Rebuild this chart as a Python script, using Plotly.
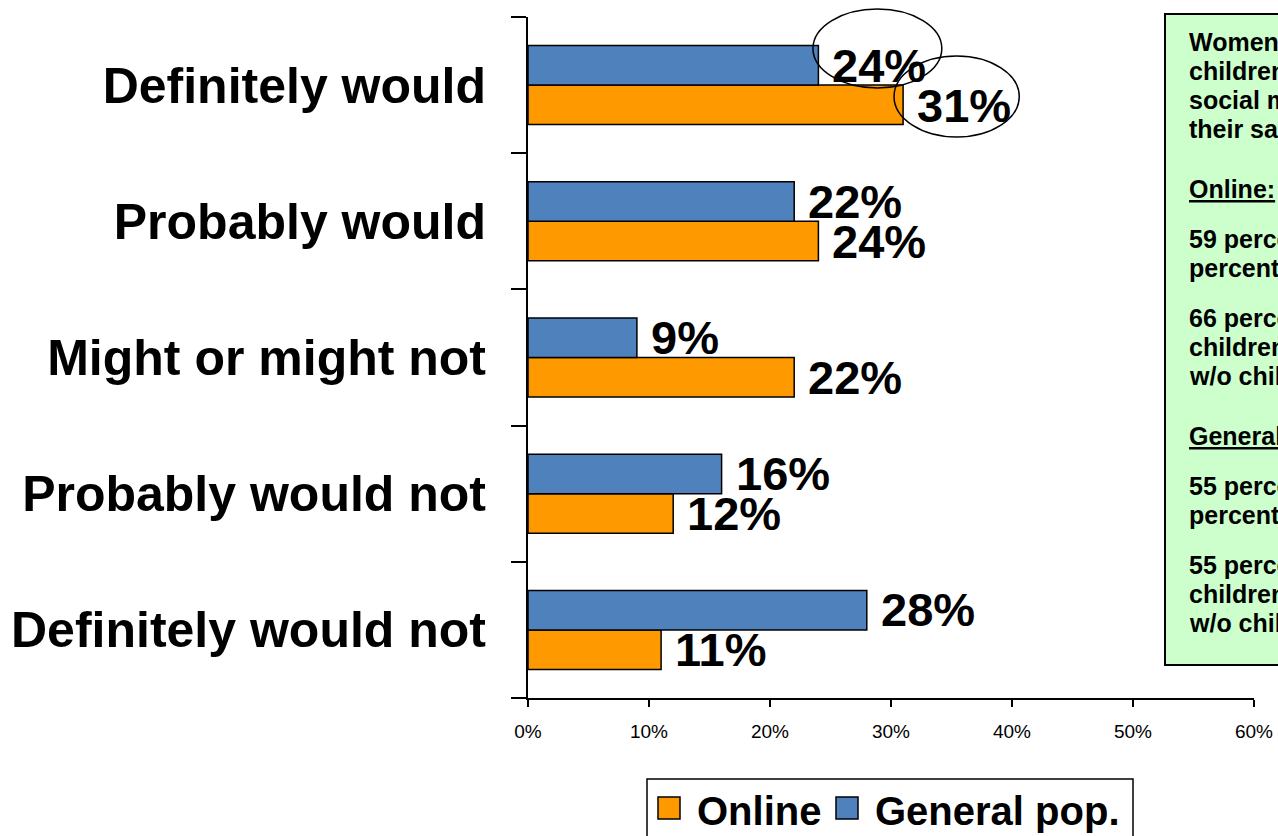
import plotly.graph_objects as go

# Survey answers and shares (percent) per group
categories = ["Definitely would", "Probably would", "Might or might not",
              "Probably would not", "Definitely would not"]
online = [31, 24, 22, 12, 11]
general_pop = [24, 22, 9, 16, 28]
series_names = ["Online", "General pop."]
x_ticks = [0, 10, 20, 30, 40, 50, 60]

ORANGE = "#FF9900"
BLUE = "#4F81BD"
FONT = "Liberation Sans, Arial, sans-serif"

W, H = 1278, 836
ML, MR, MT, MB = 528, 24, 17, 138


def px_x(px):
    return (px - ML) / (W - ML - MR)


def px_y(py):
    return 1 - (py - MT) / (H - MT - MB)


fig = go.Figure()
fig.add_trace(go.Bar(
    name=series_names[0], y=categories, x=online, orientation="h",
    marker=dict(color=ORANGE, line=dict(color="black", width=1.5)),
))
fig.add_trace(go.Bar(
    name=series_names[1], y=categories, x=general_pop, orientation="h",
    marker=dict(color=BLUE, line=dict(color="black", width=1.5)),
))

annotations = []
# value labels next to each bar end
for vals, shift in ((online, -20), (general_pop, 20)):
    for cat, v in zip(categories, vals):
        annotations.append(dict(
            x=v, y=cat, xref="x", yref="y", text=f"{v}%", showarrow=False,
            xanchor="left", yanchor="middle", xshift=12, yshift=shift,
            font=dict(family=FONT, size=47, color="black", weight="bold"),
        ))

# side note box text (lines run past the page edge)
note_lines = [
    (42, "Women with"),
    (71, "children are more"),
    (100, "social media for"),
    (129, "their savings"),
    (189, "<u>Online:</u>"),
    (239, "59 percent of women vs. 49"),
    (268, "percent of men"),
    (318, "66 percent of women with"),
    (347, "children vs. 53 percent of women"),
    (376, "w/o children"),
    (436, "<u>General pop.:</u>"),
    (486, "55 percent of women vs. 45"),
    (515, "percent of men"),
    (565, "55 percent of women with"),
    (594, "children vs. 55 percent of women"),
    (623, "w/o children"),
]
for ypx, txt in note_lines:
    annotations.append(dict(
        x=px_x(1187), y=px_y(ypx), xref="paper", yref="paper", text=txt,
        showarrow=False, xanchor="left", yanchor="middle",
        font=dict(family=FONT, size=25, color="black", weight="bold"),
    ))

# legend contents
legend_items = [(658, 695, ORANGE, series_names[0]), (836, 873, BLUE, series_names[1])]
shapes = []
for sq_x, tx_x, col, name in legend_items:
    shapes.append(dict(type="rect", xref="paper", yref="paper",
                       x0=px_x(sq_x), x1=px_x(sq_x + 22), y0=px_y(819), y1=px_y(797),
                       fillcolor=col, line=dict(color="black", width=1.5)))
    annotations.append(dict(
        x=px_x(tx_x), y=px_y(811), xref="paper", yref="paper", text=name,
        showarrow=False, xanchor="left", yanchor="middle",
        font=dict(family=FONT, size=40, color="black", weight="bold"),
    ))

# legend frame
shapes.append(dict(type="rect", xref="paper", yref="paper",
                   x0=px_x(647), x1=px_x(1133), y0=px_y(860), y1=px_y(779),
                   fillcolor="rgba(0,0,0,0)", line=dict(color="black", width=1.5)))
# note box
shapes.insert(0, dict(type="rect", xref="paper", yref="paper", layer="below",
                      x0=px_x(1165), x1=px_x(1300), y0=px_y(665), y1=px_y(14),
                      fillcolor="#CCFFCC", line=dict(color="black", width=2)))
# highlight ovals around the top answer's labels
shapes.append(dict(type="circle", xref="x", yref="paper", x0=23.55, x1=34.2,
                   y0=px_y(88), y1=px_y(9), line=dict(color="black", width=1.5)))
shapes.append(dict(type="circle", xref="x", yref="paper", x0=30.25, x1=40.6,
                   y0=px_y(137), y1=px_y(56), line=dict(color="black", width=1.5)))

fig.update_layout(
    width=W, height=H,
    margin=dict(l=ML, r=MR, t=MT, b=MB, autoexpand=False),
    paper_bgcolor="white", plot_bgcolor="white",
    barmode="group", bargap=0.42, bargroupgap=0,
    showlegend=False,
    annotations=annotations, shapes=shapes,
    xaxis=dict(
        range=[0, 60], tickvals=x_ticks, ticktext=[f"{t}%" for t in x_ticks],
        showgrid=False, zeroline=False, showline=True, linecolor="black", linewidth=1.5,
        ticks="outside", ticklen=7, tickcolor="black", tickwidth=1.5,
        tickfont=dict(family=FONT, size=19, color="black"), ticklabelstandoff=8,
    ),
    yaxis=dict(
        categoryorder="array", categoryarray=categories[::-1], range=[-0.5, 4.5],
        showgrid=False, zeroline=False, showline=True, linecolor="black", linewidth=2,
        ticks="outside", ticklen=15, tickcolor="black", tickwidth=2, tickson="boundaries",
        tickfont=dict(family=FONT, size=50, color="black", weight="bold"),
        ticklabelstandoff=30,
    ),
)

fig.write_html("out.html")
